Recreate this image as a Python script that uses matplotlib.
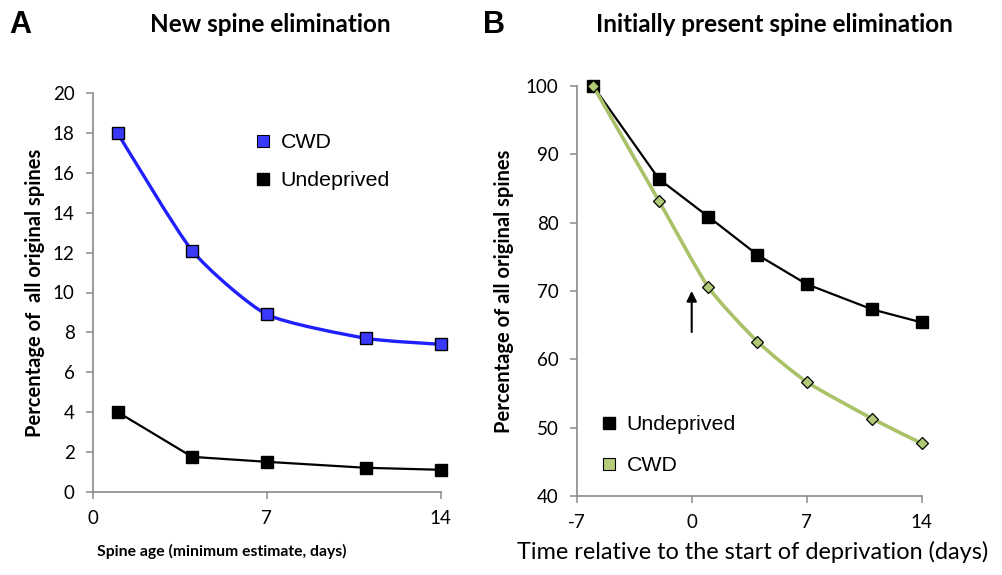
import matplotlib
matplotlib.use("Agg")
import matplotlib.pyplot as plt
from matplotlib.path import Path
from matplotlib.patches import PathPatch
from matplotlib.lines import Line2D
import numpy as np

plt.rcParams["axes.unicode_minus"] = False

# ---------------- data ----------------
spine_age_days = [1, 4, 7, 11, 14]
new_cwd = [18.0, 12.1, 8.9, 7.7, 7.4]
new_undeprived = [4.0, 1.75, 1.5, 1.2, 1.1]

time_days = [-6, -2, 1, 4, 7, 11, 14]
init_undeprived = [100.0, 86.4, 80.9, 75.3, 71.0, 67.3, 65.4]
init_cwd = [100.0, 83.2, 70.6, 62.6, 56.7, 51.3, 47.7]

a_xticks = [0, 7, 14]
a_yticks = [0, 2, 4, 6, 8, 10, 12, 14, 16, 18, 20]
b_xticks = [-7, 0, 7, 14]
b_yticks = [40, 50, 60, 70, 80, 90, 100]

arrow_x = 0
arrow_y = (64.0, 70.0)

W, H = 1002, 575
fig = plt.figure(figsize=(W / 100, H / 100), dpi=100)

AXIS_GRAY = "#8a8a8a"
TICK_FONT = "Lato"
BOLD_FONT = "Lato"
LEG_FONT = "Liberation Sans"


def px(x, y):
    return x / W, 1 - y / H


def smooth_path(x, y, k=10.0):
    pts = np.column_stack([x, y]).astype(float)
    n = len(pts)
    verts = [pts[0]]
    codes = [Path.MOVETO]
    for i in range(n - 1):
        p0 = pts[i - 1] if i > 0 else pts[i]
        p1 = pts[i]
        p2 = pts[i + 1]
        p3 = pts[i + 2] if i + 2 < n else pts[i + 1]
        c1 = p1 + (p2 - p0) / k
        c2 = p2 - (p3 - p1) / k
        verts += [c1, c2, p2]
        codes += [Path.CURVE4] * 3
    return Path(verts, codes)


def style_axes(ax):
    for s in ["top", "right"]:
        ax.spines[s].set_visible(False)
    for s in ["left", "bottom"]:
        ax.spines[s].set_color(AXIS_GRAY)
        ax.spines[s].set_linewidth(1.2)
    ax.tick_params(axis="both", direction="out", length=5, width=1.1,
                   color=AXIS_GRAY, labelsize=13.5, pad=8)
    for lab in ax.get_xticklabels() + ax.get_yticklabels():
        lab.set_fontfamily(TICK_FONT)
    ax.set_facecolor("none")


# ---------------- Panel A ----------------
axA = fig.add_axes([92.7 / W, 1 - 491.7 / H, 348 / W, 398.4 / H])
axA.set_xlim(0, 14)
axA.set_ylim(0, 20)
axA.set_xticks(a_xticks)
axA.set_yticks(a_yticks)
axA.add_patch(PathPatch(smooth_path(spine_age_days, new_cwd), fill=False,
                        edgecolor="#1f1fff", lw=2.4, zorder=2))
axA.plot(spine_age_days, new_cwd, ls="none", marker="s", ms=8.5,
         mfc="#3a3aff", mec="black", mew=1.0, zorder=3, clip_on=False)
axA.plot(spine_age_days, new_undeprived, color="black", lw=1.6,
         marker="s", ms=8.5, mfc="black", mec="black", zorder=3, clip_on=False)
style_axes(axA)
axA.set_ylabel("Percentage of  all original spines", fontsize=14.5,
               fontweight="bold", family=BOLD_FONT)
axA.yaxis.set_label_coords(-0.138, 0.5)

legA = [Line2D([], [], ls="none", marker="s", ms=9, mfc="#3a3aff", mec="black", mew=0.8),
        Line2D([], [], ls="none", marker="s", ms=9, mfc="black", mec="black")]
axA.legend(legA, ["CWD", "Undeprived"], loc="upper left",
           bbox_to_anchor=px(256, 133), bbox_transform=fig.transFigure,
           frameon=False, handlelength=0.7, handletextpad=0.45,
           labelspacing=0.89, borderpad=0, borderaxespad=0,
           prop={"family": LEG_FONT, "size": 15.4})

# ---------------- Panel B ----------------
axB = fig.add_axes([576.7 / W, 1 - 496 / H, 345 / W, 410 / H])
axB.set_xlim(-7, 14)
axB.set_ylim(40, 100)
axB.set_xticks(b_xticks)
axB.set_yticks(b_yticks)
axB.plot(time_days, init_undeprived, color="black", lw=1.6,
         marker="s", ms=9, mfc="black", mec="black", zorder=3, clip_on=False)
axB.add_patch(PathPatch(smooth_path(time_days, init_cwd), fill=False,
                        edgecolor="#a9c267", lw=2.6, zorder=4))
axB.plot(time_days, init_cwd, ls="none", marker="D", ms=6.2,
         mfc="#b2c978", mec="black", mew=0.9, zorder=5, clip_on=False)
style_axes(axB)
axB.set_ylabel("Percentage of all original spines", fontsize=14.5,
               fontweight="bold", family=BOLD_FONT)
axB.yaxis.set_label_coords(-0.181, 0.5)
axB.annotate("", xy=(arrow_x, arrow_y[1]), xytext=(arrow_x, arrow_y[0]),
             arrowprops=dict(arrowstyle="-|>", color="black", lw=1.5,
                             mutation_scale=15, shrinkA=0, shrinkB=0))

legB = [Line2D([], [], ls="none", marker="s", ms=9, mfc="black", mec="black"),
        Line2D([], [], ls="none", marker="s", ms=9, mfc="#b5cc7a", mec="black", mew=0.8)]
axB.legend(legB, ["Undeprived", "CWD"], loc="upper left",
           bbox_to_anchor=px(602, 415), bbox_transform=fig.transFigure,
           frameon=False, handlelength=0.7, handletextpad=0.45,
           labelspacing=1.05, borderpad=0, borderaxespad=0,
           prop={"family": LEG_FONT, "size": 15.4})

# ---------------- text ----------------
fig.text(*px(9, 25), "A", fontsize=22, fontweight="bold", family="Liberation Sans",
         ha="left", va="center")
fig.text(*px(483, 25), "B", fontsize=22, fontweight="bold", family="Liberation Sans",
         ha="left", va="center")
fig.text(*px(270, 25), "New spine elimination", fontsize=17.5, fontweight="bold",
         family=BOLD_FONT, ha="center", va="center")
fig.text(*px(774, 25), "Initially present spine elimination", fontsize=17.5,
         fontweight="bold", family=BOLD_FONT, ha="center", va="center")
fig.text(*px(222, 551), "Spine age (minimum estimate, days)", fontsize=11.3,
         fontweight="bold", family=BOLD_FONT, ha="center", va="center")
fig.text(*px(753, 552), "Time relative to the start of deprivation (days)", fontsize=16.9,
         family=TICK_FONT, ha="center", va="center")

fig.savefig("out.png", dpi=100)
